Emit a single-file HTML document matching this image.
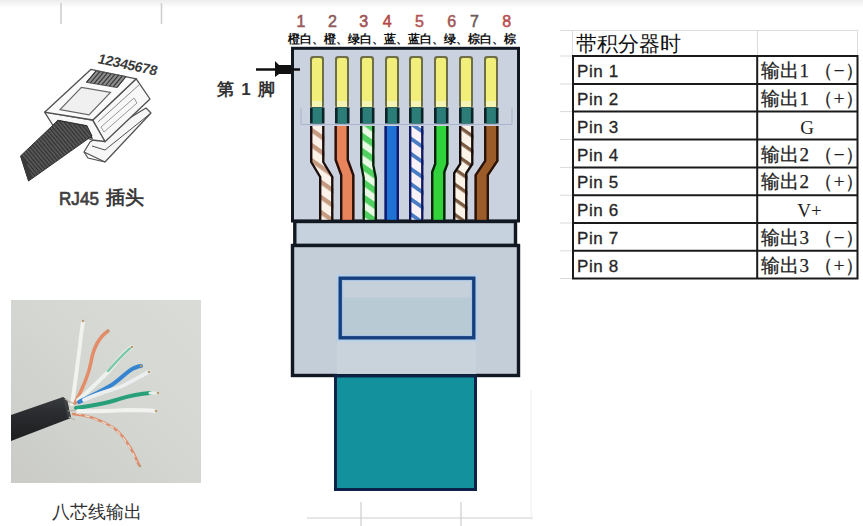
<!DOCTYPE html>
<html><head><meta charset="utf-8">
<style>
html,body{margin:0;padding:0;background:#fff;}
body{width:863px;height:526px;overflow:hidden;position:relative;font-family:"Liberation Sans",sans-serif;}
svg{position:absolute;left:0;top:0;}
.t{position:absolute;white-space:nowrap;line-height:1;}
</style></head><body>
<svg width="863" height="526" viewBox="0 0 863 526">
<defs>
 <pattern id="strOW" patternUnits="userSpaceOnUse" width="20" height="12.4" patternTransform="rotate(35)">
  <rect width="20" height="12.4" fill="#fbf2ea"/><rect y="0" width="20" height="4.4" fill="#c49a80"/>
 </pattern>
 <pattern id="strGW" patternUnits="userSpaceOnUse" width="20" height="12.4" patternTransform="rotate(35)">
  <rect width="20" height="12.4" fill="#e8fae4"/><rect y="0" width="20" height="6" fill="#50d060"/>
 </pattern>
 <pattern id="strBW" patternUnits="userSpaceOnUse" width="20" height="12.4" patternTransform="rotate(35)">
  <rect width="20" height="12.4" fill="#f8f2f8"/><rect y="0" width="20" height="3.8" fill="#4a7cc4"/>
 </pattern>
 <pattern id="strNW" patternUnits="userSpaceOnUse" width="20" height="12.4" patternTransform="rotate(35)">
  <rect width="20" height="12.4" fill="#fcf4e8"/><rect y="0" width="20" height="3.4" fill="#7a5a40"/>
 </pattern>
</defs>
<defs><linearGradient id="topg" x1="0" y1="0" x2="0" y2="1"><stop offset="0" stop-color="#ececec"/><stop offset="0.5" stop-color="#f6f6f6"/><stop offset="1" stop-color="#ffffff"/></linearGradient></defs>
<rect x="0" y="0" width="863" height="8" fill="url(#topg)"/>
<line x1="61" y1="3" x2="61" y2="24" stroke="#d0d0d0" stroke-width="1.6"/>
<line x1="161.5" y1="3" x2="161.5" y2="24" stroke="#d0d0d0" stroke-width="1.6"/>

<rect x="292.5" y="48.3" width="226" height="172.7" fill="#c9d2de" stroke="#121822" stroke-width="3"/>
<path d="M301,108 L301,124.5 L512,124.5 L512,108" fill="none" stroke="#aab4cc" stroke-width="1"/>
<rect x="310" y="56" width="14" height="52" rx="3" fill="#6e6e48"/>
<rect x="312" y="58" width="10" height="49" rx="2" fill="#f2ee7a"/>
<rect x="312" y="101" width="10" height="6" fill="#f4f4b4"/>
<rect x="310" y="107.5" width="14.5" height="16" fill="#0c2428"/>
<rect x="312.6" y="107.5" width="9.3" height="16" fill="#2c7c78"/>
<rect x="335" y="56" width="14" height="52" rx="3" fill="#6e6e48"/>
<rect x="337" y="58" width="10" height="49" rx="2" fill="#f2ee7a"/>
<rect x="337" y="101" width="10" height="6" fill="#f4f4b4"/>
<rect x="335" y="107.5" width="14.5" height="16" fill="#0c2428"/>
<rect x="337.6" y="107.5" width="9.3" height="16" fill="#2c7c78"/>
<rect x="360" y="56" width="14" height="52" rx="3" fill="#6e6e48"/>
<rect x="362" y="58" width="10" height="49" rx="2" fill="#f2ee7a"/>
<rect x="362" y="101" width="10" height="6" fill="#f4f4b4"/>
<rect x="360" y="107.5" width="14.5" height="16" fill="#0c2428"/>
<rect x="362.6" y="107.5" width="9.3" height="16" fill="#2c7c78"/>
<rect x="385" y="56" width="14" height="52" rx="3" fill="#6e6e48"/>
<rect x="387" y="58" width="10" height="49" rx="2" fill="#f2ee7a"/>
<rect x="387" y="101" width="10" height="6" fill="#f4f4b4"/>
<rect x="385" y="107.5" width="14.5" height="16" fill="#0c2428"/>
<rect x="387.6" y="107.5" width="9.3" height="16" fill="#2c7c78"/>
<rect x="409" y="56" width="14" height="52" rx="3" fill="#6e6e48"/>
<rect x="411" y="58" width="10" height="49" rx="2" fill="#f2ee7a"/>
<rect x="411" y="101" width="10" height="6" fill="#f4f4b4"/>
<rect x="409" y="107.5" width="14.5" height="16" fill="#0c2428"/>
<rect x="411.6" y="107.5" width="9.3" height="16" fill="#2c7c78"/>
<rect x="434" y="56" width="14" height="52" rx="3" fill="#6e6e48"/>
<rect x="436" y="58" width="10" height="49" rx="2" fill="#f2ee7a"/>
<rect x="436" y="101" width="10" height="6" fill="#f4f4b4"/>
<rect x="434" y="107.5" width="14.5" height="16" fill="#0c2428"/>
<rect x="436.6" y="107.5" width="9.3" height="16" fill="#2c7c78"/>
<rect x="459" y="56" width="14" height="52" rx="3" fill="#6e6e48"/>
<rect x="461" y="58" width="10" height="49" rx="2" fill="#f2ee7a"/>
<rect x="461" y="101" width="10" height="6" fill="#f4f4b4"/>
<rect x="459" y="107.5" width="14.5" height="16" fill="#0c2428"/>
<rect x="461.6" y="107.5" width="9.3" height="16" fill="#2c7c78"/>
<rect x="484" y="56" width="14" height="52" rx="3" fill="#6e6e48"/>
<rect x="486" y="58" width="10" height="49" rx="2" fill="#f2ee7a"/>
<rect x="486" y="101" width="10" height="6" fill="#f4f4b4"/>
<rect x="484" y="107.5" width="14.5" height="16" fill="#0c2428"/>
<rect x="486.6" y="107.5" width="9.3" height="16" fill="#2c7c78"/>
<path d="M310,126 L324.5,126 L324.5,162 L333.5,177 L333.5,220 L319,220 L319,177 L310,162 Z" fill="url(#strOW)"/>
<polyline points="311.2,126 311.2,162 320.2,177 320.2,220" fill="none" stroke="#1a0e0e" stroke-width="2.4"/>
<polyline points="323.3,126 323.3,162 332.3,177 332.3,220" fill="none" stroke="#1a0e0e" stroke-width="2.4"/>
<path d="M334.5,126 L349.0,126 L349.0,160 L354.5,175 L354.5,220 L340,220 L340,175 L334.5,160 Z" fill="#e8845c"/>
<polyline points="335.7,126 335.7,160 341.2,175 341.2,220" fill="none" stroke="#24100c" stroke-width="2.4"/>
<polyline points="347.8,126 347.8,160 353.3,175 353.3,220" fill="none" stroke="#24100c" stroke-width="2.4"/>
<path d="M360,126 L374.5,126 L374.5,165 L377.0,178 L377.0,220 L362.5,220 L362.5,178 L360,165 Z" fill="url(#strGW)"/>
<polyline points="361.2,126 361.2,165 363.7,178 363.7,220" fill="none" stroke="#0a200e" stroke-width="2.4"/>
<polyline points="373.3,126 373.3,165 375.8,178 375.8,220" fill="none" stroke="#0a200e" stroke-width="2.4"/>
<path d="M384.5,126 L399.0,126 L399.0,165 L399.0,175 L399.0,220 L384.5,220 L384.5,175 L384.5,165 Z" fill="#1e72d4"/>
<polyline points="385.7,126 385.7,165 385.7,175 385.7,220" fill="none" stroke="#14186a" stroke-width="2.4"/>
<polyline points="397.8,126 397.8,165 397.8,175 397.8,220" fill="none" stroke="#14186a" stroke-width="2.4"/>
<path d="M409,126 L423.5,126 L423.5,165 L423.5,175 L423.5,220 L409,220 L409,175 L409,165 Z" fill="url(#strBW)"/>
<polyline points="410.2,126 410.2,165 410.2,175 410.2,220" fill="none" stroke="#101860" stroke-width="2.4"/>
<polyline points="422.3,126 422.3,165 422.3,175 422.3,220" fill="none" stroke="#101860" stroke-width="2.4"/>
<path d="M434,126 L448.5,126 L448.5,164 L445.5,172 L445.5,220 L431,220 L431,172 L434,164 Z" fill="#30d43a"/>
<polyline points="435.2,126 435.2,164 432.2,172 432.2,220" fill="none" stroke="#0c200c" stroke-width="2.4"/>
<polyline points="447.3,126 447.3,164 444.3,172 444.3,220" fill="none" stroke="#0c200c" stroke-width="2.4"/>
<path d="M459,126 L473.5,126 L473.5,164 L467.5,173 L467.5,220 L453,220 L453,173 L459,164 Z" fill="url(#strNW)"/>
<polyline points="460.2,126 460.2,164 454.2,173 454.2,220" fill="none" stroke="#140c0a" stroke-width="2.4"/>
<polyline points="472.3,126 472.3,164 466.3,173 466.3,220" fill="none" stroke="#140c0a" stroke-width="2.4"/>
<path d="M484,126 L498.5,126 L498.5,161 L489.0,175 L489.0,220 L474.5,220 L474.5,175 L484,161 Z" fill="#9c5c2a"/>
<polyline points="485.2,126 485.2,161 475.7,175 475.7,220" fill="none" stroke="#2a140a" stroke-width="2.4"/>
<polyline points="497.3,126 497.3,161 487.8,175 487.8,220" fill="none" stroke="#2a140a" stroke-width="2.4"/>

<rect x="294.8" y="221.5" width="220.7" height="24" fill="#c6d3de" stroke="#121822" stroke-width="3.4"/>
<rect x="292.5" y="245.5" width="226" height="130" fill="#c3ced9" stroke="#121822" stroke-width="3.4"/>
<rect x="337" y="340" width="139" height="34" fill="#c9d3dc"/>
<rect x="337.5" y="275.5" width="139" height="65" fill="none" stroke="#b4d0f0" stroke-width="1.5"/>
<rect x="340.5" y="278.5" width="133" height="59" fill="#b8cbd4" stroke="#15407e" stroke-width="4"/>
<rect x="342.5" y="280.5" width="129" height="17" fill="#c6d0da"/>
<rect x="342.5" y="280.5" width="129" height="55" fill="none" stroke="#a8c4e4" stroke-width="1.2"/>
<rect x="335.5" y="376" width="140" height="113.5" fill="#13919d" stroke="#0d2248" stroke-width="3"/>
<line x1="307" y1="518" x2="533" y2="518" stroke="#cdcdcd" stroke-width="1.2"/>
<line x1="361" y1="502" x2="361" y2="526" stroke="#cdcdcd" stroke-width="1.2"/>
<line x1="461" y1="502" x2="461" y2="526" stroke="#cdcdcd" stroke-width="1.2"/>
<line x1="531" y1="390" x2="531" y2="520" stroke="#eeeeee" stroke-width="1"/>
<line x1="256" y1="69.5" x2="300" y2="69.5" stroke="#111" stroke-width="2.6"/>
<polygon points="275,61 279,65 291,65 291,74 279,74 275,77" fill="#111"/>

<g stroke="#dcdcdc" stroke-width="1">
 <line x1="560" y1="30.5" x2="858" y2="30.5"/>
 <line x1="572.5" y1="30" x2="572.5" y2="56"/>
 <line x1="757.5" y1="30" x2="757.5" y2="56"/>
 <line x1="857.5" y1="30" x2="857.5" y2="56"/>
</g>
<g stroke="#dadada" stroke-width="1">
<line x1="560" y1="56" x2="572" y2="56"/>
<line x1="560" y1="84" x2="572" y2="84"/>
<line x1="560" y1="111.6" x2="572" y2="111.6"/>
<line x1="560" y1="139.5" x2="572" y2="139.5"/>
<line x1="560" y1="167.4" x2="572" y2="167.4"/>
<line x1="560" y1="195.2" x2="572" y2="195.2"/>
<line x1="560" y1="223" x2="572" y2="223"/>
<line x1="560" y1="250.8" x2="572" y2="250.8"/>
<line x1="560" y1="278.5" x2="572" y2="278.5"/>
</g>
<g stroke="#1a1a1a" stroke-width="2" fill="none">
<rect x="573" y="56" width="284.5" height="222.5"/>
<line x1="757.2" y1="56" x2="757.2" y2="278.5"/>
<line x1="573" y1="84" x2="857.5" y2="84"/>
<line x1="573" y1="111.6" x2="857.5" y2="111.6"/>
<line x1="573" y1="139.5" x2="857.5" y2="139.5"/>
<line x1="573" y1="167.4" x2="857.5" y2="167.4"/>
<line x1="573" y1="195.2" x2="857.5" y2="195.2"/>
<line x1="573" y1="223" x2="857.5" y2="223"/>
<line x1="573" y1="250.8" x2="857.5" y2="250.8"/>
</g>
<defs><linearGradient id="pbg" x1="1" y1="0" x2="0" y2="1"><stop offset="0" stop-color="#d9dcd7"/><stop offset="0.5" stop-color="#d3d6d1"/><stop offset="1" stop-color="#cacbc6"/></linearGradient><linearGradient id="cab" x1="0" y1="0" x2="0" y2="1"><stop offset="0" stop-color="#3a3d40"/><stop offset="0.35" stop-color="#2a2c2f"/><stop offset="1" stop-color="#1c1e20"/></linearGradient></defs>
<rect x="11" y="300" width="190" height="183" fill="url(#pbg)"/>
<path d="M72,404 C75,385 78,360 80,345 C81,335 82,328 83,322" fill="none" stroke="#f2f2ee" stroke-width="3.9" stroke-linecap="round"/>
<path d="M75,403 C82,390 88,378 91,362 C93,350 98,338 108,331" fill="none" stroke="#e48c68" stroke-width="3.5" stroke-linecap="round"/>
<path d="M78,400 C88,392 98,382 108,372 C116,362 124,352 132,347" fill="none" stroke="#eef2ee" stroke-width="3.9" stroke-linecap="round"/>
<path d="M79,402 C90,396 100,392 110,386 C120,380 126,372 134,368 C137,367 139,366 141,366" fill="none" stroke="#3584d0" stroke-width="4.1" stroke-linecap="round"/>
<path d="M84,400 C96,394 108,391 120,387 C132,382 140,376 149,372" fill="none" stroke="#eceff0" stroke-width="3.9" stroke-linecap="round"/>
<path d="M76,408 C90,406 104,404 116,400 C126,397 134,394 150,393" fill="none" stroke="#27a07a" stroke-width="4.1" stroke-linecap="round"/>
<path d="M78,411 C92,412 108,411 128,410 C138,410 146,410 155,411" fill="none" stroke="#f2f2f0" stroke-width="3.9" stroke-linecap="round"/>
<path d="M73,414 C88,415 100,419 114,428 C124,436 132,448 139,465" fill="none" stroke="#dc8e6c" stroke-width="2.5" stroke-linecap="round"/>
<path d="M76,413 C90,417 102,421 112,427 C122,434 130,446 137,462" fill="none" stroke="#eee2d8" stroke-width="1.2" stroke-dasharray="5 4"/>
<path d="M108,371 C116,362 124,353 130,348.5" fill="none" stroke="#7cc8a8" stroke-width="2.4" stroke-linecap="round"/>
<path d="M150,393 L158,393" stroke="#e8eeea" stroke-width="3" stroke-linecap="round"/>
<circle cx="83" cy="321" r="1.3" fill="#b89a70"/>
<circle cx="108" cy="331" r="1.3" fill="#b89a70"/>
<circle cx="132" cy="347" r="1.3" fill="#b89a70"/>
<circle cx="141" cy="366" r="1.3" fill="#b89a70"/>
<circle cx="149" cy="372" r="1.3" fill="#b89a70"/>
<circle cx="158" cy="393" r="1.3" fill="#b89a70"/>
<circle cx="156" cy="411" r="1.3" fill="#b89a70"/>
<circle cx="140" cy="466" r="1.3" fill="#b89a70"/>
<path d="M11,415 L63,397 L67,400 L71,418 L11,441 Z" fill="url(#cab)"/>
<path d="M63,397 L67,400 L71,418 L68,419 Z" fill="#3e4042"/>
<path d="M65,399 L74,404 M68,411 L76,410 M69,417 L75,420" stroke="#b8b0a0" stroke-width="1.2"/>
<polygon points="84,152 90,142 146,108 151,113 105,162" fill="#f6f6f6" stroke="#505050" stroke-width="1.2" stroke-linejoin="round"/>
<polyline points="84,152 88,158 105,162" fill="none" stroke="#505050" stroke-width="1.2"/>
<line x1="92" y1="146" x2="105" y2="150" stroke="#505050" stroke-width="1"/>
<line x1="105" y1="150" x2="151" y2="113" stroke="#505050" stroke-width="1"/>
<polygon points="92.8,120 136.2,78.8 150,99 105,141.7" fill="#f8f8f8" stroke="#505050" stroke-width="1.3" stroke-linejoin="round"/>
<line x1="98" y1="122" x2="140" y2="84" stroke="#888" stroke-width="1"/>
<polygon points="101,127 134,98 137,103 104,132" fill="none" stroke="#9a9a9a" stroke-width="1"/>
<polygon points="44.6,112.2 92.5,120 105,141.5 92,140 53,125.5" fill="#f8f8f8" stroke="#505050" stroke-width="1.3" stroke-linejoin="round"/>
<polygon points="53,125.5 57.8,119.8 87,125.3 91.5,135 93,139 60,131" fill="#2a2a2a"/>
<defs><pattern id="cstr" patternUnits="userSpaceOnUse" width="3" height="3" patternTransform="rotate(-40)"><rect width="3" height="3" fill="#5a5a5a"/><rect width="1.2" height="3" fill="#303030"/></pattern></defs>
<polygon points="20.5,156 57.8,120.5 87,126 92,136 28.5,181" fill="url(#cstr)" stroke="#333" stroke-width="1"/>
<polygon points="20.5,156 28.5,181 32,177 25,158" fill="#3a3a3a"/>
<polygon points="44.6,112.2 90.8,69.4 136.2,78.8 92.8,120" fill="#fafafa" stroke="#505050" stroke-width="1.3" stroke-linejoin="round"/>
<polygon points="60,109.7 81.4,87.4 110.5,92.5 89,114.8" fill="#f0f0f0" stroke="#666" stroke-width="1.2"/>
<polygon points="86.5,82.3 96,71 126,76.5 117,87.5" fill="#8c8c8c" stroke="#555" stroke-width="1"/>
<line x1="86.5" y1="82.3" x2="96.0" y2="71.0" stroke="#333" stroke-width="1.1"/>
<line x1="90.3" y1="83.0" x2="99.8" y2="71.7" stroke="#333" stroke-width="1.1"/>
<line x1="94.1" y1="83.6" x2="103.5" y2="72.4" stroke="#333" stroke-width="1.1"/>
<line x1="97.9" y1="84.2" x2="107.2" y2="73.1" stroke="#333" stroke-width="1.1"/>
<line x1="101.8" y1="84.9" x2="111.0" y2="73.8" stroke="#333" stroke-width="1.1"/>
<line x1="105.6" y1="85.5" x2="114.8" y2="74.4" stroke="#333" stroke-width="1.1"/>
<line x1="109.4" y1="86.2" x2="118.5" y2="75.1" stroke="#333" stroke-width="1.1"/>
<line x1="113.2" y1="86.8" x2="122.2" y2="75.8" stroke="#333" stroke-width="1.1"/>
<line x1="117.0" y1="87.5" x2="126.0" y2="76.5" stroke="#333" stroke-width="1.1"/>
<text x="0" y="0" transform="translate(97,63) rotate(12) skewX(-6)" font-family="Liberation Sans, sans-serif" font-size="14" font-weight="bold" fill="#3a3a3a" letter-spacing="-0.3">12345678</text>
</svg>
<div class="t" style="left:296.5px;top:14px;font-size:16px;color:#9a5656;font-weight:normal;font-family:'Liberation Sans',sans-serif;-webkit-text-stroke:0.55px #9a5656;">1</div>
<div class="t" style="left:327.9px;top:14px;font-size:16px;color:#8a5a5a;font-weight:normal;font-family:'Liberation Sans',sans-serif;-webkit-text-stroke:0.55px #8a5a5a;">2</div>
<div class="t" style="left:359.2px;top:14px;font-size:16px;color:#a05050;font-weight:normal;font-family:'Liberation Sans',sans-serif;-webkit-text-stroke:0.55px #a05050;">3</div>
<div class="t" style="left:382.7px;top:14px;font-size:16px;color:#b44848;font-weight:normal;font-family:'Liberation Sans',sans-serif;-webkit-text-stroke:0.55px #b44848;">4</div>
<div class="t" style="left:415.0px;top:14px;font-size:16px;color:#b45656;font-weight:normal;font-family:'Liberation Sans',sans-serif;-webkit-text-stroke:0.55px #b45656;">5</div>
<div class="t" style="left:447.3px;top:14px;font-size:16px;color:#a05858;font-weight:normal;font-family:'Liberation Sans',sans-serif;-webkit-text-stroke:0.55px #a05858;">6</div>
<div class="t" style="left:470.0px;top:14px;font-size:16px;color:#6e5a5a;font-weight:normal;font-family:'Liberation Sans',sans-serif;-webkit-text-stroke:0.55px #6e5a5a;">7</div>
<div class="t" style="left:502.2px;top:14px;font-size:16px;color:#b85050;font-weight:normal;font-family:'Liberation Sans',sans-serif;-webkit-text-stroke:0.55px #b85050;">8</div>
<div class="t" style="left:288px;top:33px;font-size:12.2px;color:#111;font-weight:bold;font-family:'Liberation Sans',sans-serif;">橙白、橙、绿白、蓝、蓝白、绿、棕白、棕</div>
<div class="t" style="left:217px;top:81px;font-size:17px;color:#333;font-weight:bold;font-family:'Liberation Sans',sans-serif;letter-spacing:1.3px;">第 1 脚</div>
<div class="t" style="left:59px;top:189px;font-size:19px;color:#404040;font-weight:normal;font-family:'Liberation Sans',sans-serif;transform:scaleX(0.9);transform-origin:0 0;-webkit-text-stroke:0.7px #404040;">RJ45</div>
<div class="t" style="left:106px;top:188px;font-size:19px;color:#3a3a3a;font-weight:bold;font-family:'Liberation Sans',sans-serif;">插头</div>
<div class="t" style="left:52px;top:503px;font-size:18px;color:#303030;font-weight:normal;font-family:'Liberation Serif',serif;">八芯线输出</div>
<div class="t" style="left:576px;top:34px;font-size:20.5px;color:#111;font-weight:normal;font-family:'Liberation Sans',sans-serif;">带积分器时</div>
<div class="t" style="left:577px;top:63px;font-size:17px;color:#262626;font-weight:normal;font-family:'Liberation Sans',sans-serif;letter-spacing:0.6px;-webkit-text-stroke:0.3px #262626;">Pin 1</div>
<div class="t" style="left:761px;top:61px;font-size:19px;color:#222;font-weight:normal;font-family:'Liberation Serif',serif;letter-spacing:0.3px;-webkit-text-stroke:0.25px #222;">输出1 （−）</div>
<div class="t" style="left:577px;top:91px;font-size:17px;color:#262626;font-weight:normal;font-family:'Liberation Sans',sans-serif;letter-spacing:0.6px;-webkit-text-stroke:0.3px #262626;">Pin 2</div>
<div class="t" style="left:761px;top:89px;font-size:19px;color:#222;font-weight:normal;font-family:'Liberation Serif',serif;letter-spacing:0.3px;-webkit-text-stroke:0.25px #222;">输出1 （+）</div>
<div class="t" style="left:577px;top:118.6px;font-size:17px;color:#262626;font-weight:normal;font-family:'Liberation Sans',sans-serif;letter-spacing:0.6px;-webkit-text-stroke:0.3px #262626;">Pin 3</div>
<div class="t" style="left:757px;width:100px;text-align:center;top:117.6px;font-size:19px;color:#222;font-family:'Liberation Serif',serif;">G</div>
<div class="t" style="left:577px;top:146.5px;font-size:17px;color:#262626;font-weight:normal;font-family:'Liberation Sans',sans-serif;letter-spacing:0.6px;-webkit-text-stroke:0.3px #262626;">Pin 4</div>
<div class="t" style="left:761px;top:144.5px;font-size:19px;color:#222;font-weight:normal;font-family:'Liberation Serif',serif;letter-spacing:0.3px;-webkit-text-stroke:0.25px #222;">输出2 （−）</div>
<div class="t" style="left:577px;top:174.4px;font-size:17px;color:#262626;font-weight:normal;font-family:'Liberation Sans',sans-serif;letter-spacing:0.6px;-webkit-text-stroke:0.3px #262626;">Pin 5</div>
<div class="t" style="left:761px;top:172.4px;font-size:19px;color:#222;font-weight:normal;font-family:'Liberation Serif',serif;letter-spacing:0.3px;-webkit-text-stroke:0.25px #222;">输出2 （+）</div>
<div class="t" style="left:577px;top:202.2px;font-size:17px;color:#262626;font-weight:normal;font-family:'Liberation Sans',sans-serif;letter-spacing:0.6px;-webkit-text-stroke:0.3px #262626;">Pin 6</div>
<div class="t" style="left:759.5px;width:100px;text-align:center;top:201.2px;font-size:19px;color:#222;font-family:'Liberation Serif',serif;">V+</div>
<div class="t" style="left:577px;top:230px;font-size:17px;color:#262626;font-weight:normal;font-family:'Liberation Sans',sans-serif;letter-spacing:0.6px;-webkit-text-stroke:0.3px #262626;">Pin 7</div>
<div class="t" style="left:761px;top:228px;font-size:19px;color:#222;font-weight:normal;font-family:'Liberation Serif',serif;letter-spacing:0.3px;-webkit-text-stroke:0.25px #222;">输出3 （−）</div>
<div class="t" style="left:577px;top:257.8px;font-size:17px;color:#262626;font-weight:normal;font-family:'Liberation Sans',sans-serif;letter-spacing:0.6px;-webkit-text-stroke:0.3px #262626;">Pin 8</div>
<div class="t" style="left:761px;top:255.8px;font-size:19px;color:#222;font-weight:normal;font-family:'Liberation Serif',serif;letter-spacing:0.3px;-webkit-text-stroke:0.25px #222;">输出3 （+）</div>
</body></html>
